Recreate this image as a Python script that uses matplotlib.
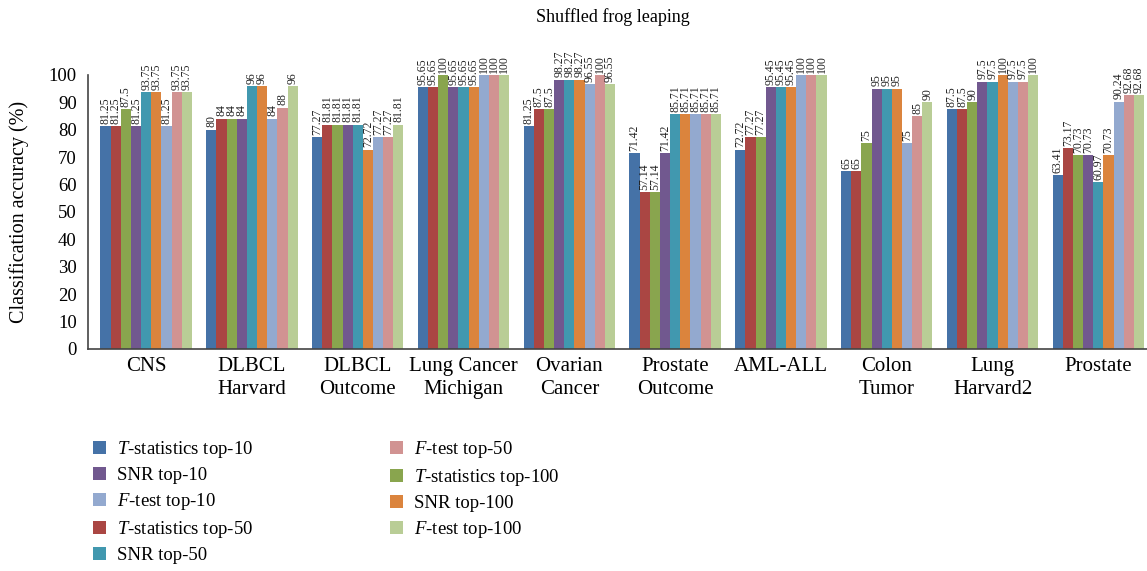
import numpy as np
import matplotlib
matplotlib.use("Agg")
import matplotlib.pyplot as plt

plt.rcParams["font.family"] = ["Liberation Serif", "DejaVu Serif"]
plt.rcParams["mathtext.fontset"] = "custom"
plt.rcParams["mathtext.it"] = "Liberation Serif:italic"
plt.rcParams["mathtext.rm"] = "Liberation Serif"

DATASETS = ["CNS", "DLBCL\nHarvard", "DLBCL\nOutcome", "Lung Cancer\nMichigan",
            "Ovarian\nCancer", "Prostate\nOutcome", "AML-ALL", "Colon\nTumor",
            "Lung\nHarvard2", "Prostate"]

# bar order inside each group
SERIES = ["$T$-statistics top-10", "$T$-statistics top-50", "$T$-statistics top-100",
          "SNR top-10", "SNR top-50", "SNR top-100",
          "$F$-test top-10", "$F$-test top-50", "$F$-test top-100"]

T10 = [81.25, 80, 77.27, 95.65, 81.25, 71.42, 72.72, 65, 87.5, 63.41]
T50 = [81.25, 84, 81.81, 95.65, 87.5, 57.14, 77.27, 65, 87.5, 73.17]
T100 = [87.5, 84, 81.81, 100, 87.5, 57.14, 77.27, 75, 90, 70.73]
SNR10 = [81.25, 84, 81.81, 95.65, 98.27, 71.42, 95.45, 95, 97.5, 70.73]
SNR50 = [93.75, 96, 81.81, 95.65, 98.27, 85.71, 95.45, 95, 97.5, 60.97]
SNR100 = [93.75, 96, 72.72, 95.65, 98.27, 85.71, 95.45, 95, 100, 70.73]
F10 = [81.25, 84, 77.27, 100, 96.55, 85.71, 100, 75, 97.5, 90.24]
F50 = [93.75, 88, 77.27, 100, 100, 85.71, 100, 85, 97.5, 92.68]
F100 = [93.75, 96, 81.81, 100, 96.55, 85.71, 100, 90, 100, 92.68]

VALUES = [T10, T50, T100, SNR10, SNR50, SNR100, F10, F50, F100]

COLORS = ["#4572a7", "#aa4643", "#89a54e", "#71588f", "#4198af",
          "#db843d", "#93a9cf", "#d19392", "#b9cd96"]

# legend order (column-wise)
LEGEND_ORDER = [0, 3, 6, 1, 4, 7, 2, 5, 8]


def fmt(v):
    return ("%g" % v)


fig = plt.figure(figsize=(11.47, 5.71), dpi=100)
ax = fig.add_axes([0.0767, 0.389, 0.9233, 0.48])

x = np.arange(len(DATASETS))
w = 0.096
bars = []
for i, (vals, col) in enumerate(zip(VALUES, COLORS)):
    pos = x + (i - 4) * w
    b = ax.bar(pos, vals, width=w, color=col, label=SERIES[i], linewidth=0)
    bars.append(b)
    for p, v in zip(pos, vals):
        ax.text(p, v + 0.8, fmt(v), rotation=90, ha="center", va="bottom",
                fontsize=8.5, color="#222222")

ax.set_xlim(-0.55, 9.46)
ax.set_ylim(0, 100)
ax.set_yticks(range(0, 101, 10))
ax.set_xticks(x)
ax.set_xticklabels(DATASETS, fontsize=15, linespacing=1.25)
ax.tick_params(axis="x", length=0, pad=6)
ax.tick_params(axis="y", length=0, labelsize=13.5, pad=8)
ax.set_ylabel("Classification accuracy (%)", fontsize=14.5, labelpad=14)

for s in ["top", "right"]:
    ax.spines[s].set_visible(False)
for s in ["left", "bottom"]:
    ax.spines[s].set_color("#444444")
    ax.spines[s].set_linewidth(1.2)

fig.text(0.534, 0.97, "Shuffled frog leaping", ha="center", va="center", fontsize=13)

fig.legend([bars[i] for i in LEGEND_ORDER], [SERIES[i] for i in LEGEND_ORDER],
           ncol=2, loc="upper left", bbox_to_anchor=(0.066, 0.26),
           frameon=False, fontsize=13.5, handlelength=0.7, handleheight=0.7,
           handletextpad=0.6, labelspacing=0.36, columnspacing=7.3)

fig.savefig("out.png", dpi=100)
